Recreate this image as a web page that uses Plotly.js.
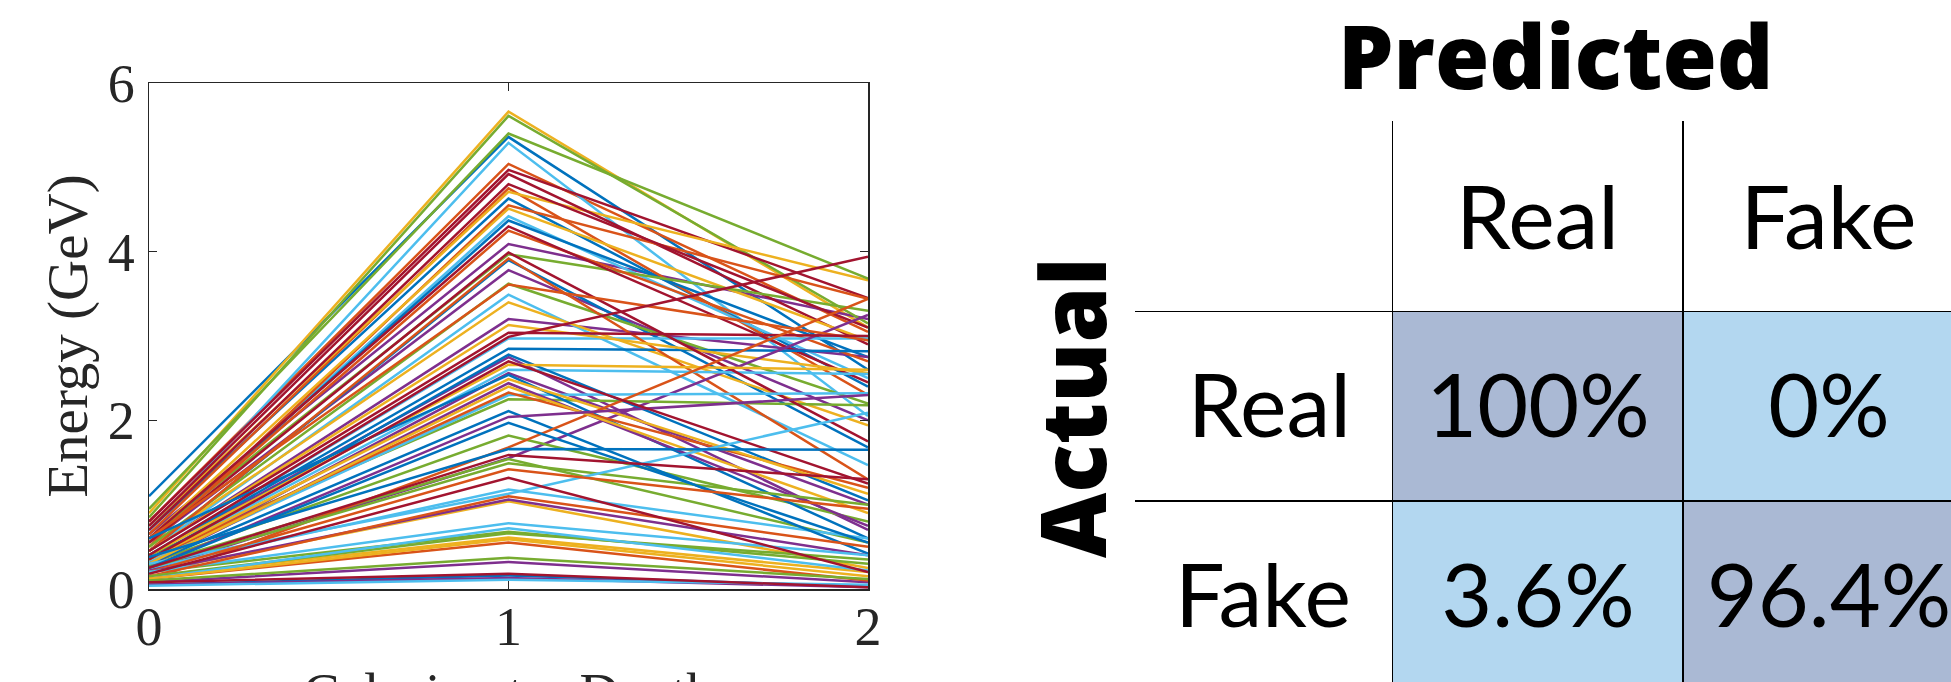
<!DOCTYPE html>
<html>
<head>
<meta charset="utf-8">
<script src="https://cdn.plot.ly/plotly-3.0.1.min.js"></script>
<style>html,body{margin:0;padding:0;background:#fff;}#chart{width:1951px;height:682px;}</style>
</head>
<body>
<div id="chart"></div>
<script>
// Calorimeter layers (x axis)
const depth = [0, 1, 2];
// Shower energy profiles [layer0, layer1, layer2] in GeV, grouped by MATLAB colour order
const showersBlue = [
  [1.10, 5.36, 2.60], [0.70, 4.63, 2.40], [0.55, 4.37, 2.75], [0.45, 3.90, 1.68],
  [0.40, 2.85, 2.82], [0.35, 2.78, 1.05], [0.60, 2.54, 0.60], [0.30, 2.11, 0.42],
  [0.25, 1.97, 0.55], [0.38, 1.66, 1.65], [0.05, 0.16, 0.03]
];
const showersOrange = [
  [0.80, 5.04, 3.05], [0.65, 4.75, 2.30], [0.50, 4.55, 3.44], [0.55, 4.25, 2.70],
  [0.45, 3.92, 1.30], [0.60, 3.61, 2.95], [0.35, 2.33, 1.20], [0.10, 1.68, 3.44],
  [0.20, 1.42, 0.95], [0.15, 1.10, 0.50], [0.12, 0.55, 0.10]
];
const showersYellow = [
  [0.90, 5.66, 3.10], [0.75, 4.71, 3.66], [0.60, 4.51, 2.95], [0.50, 3.40, 1.94],
  [0.45, 3.13, 2.56], [0.40, 2.66, 2.60], [0.35, 2.49, 1.13], [0.30, 2.40, 0.90],
  [0.20, 1.04, 0.25], [0.15, 0.61, 0.20], [0.12, 0.59, 0.15]
];
const showersPurple = [
  [0.65, 4.09, 3.20], [0.55, 3.78, 2.00], [0.45, 3.20, 2.75], [0.40, 2.75, 0.70],
  [0.22, 1.55, 3.25], [0.30, 2.56, 1.00], [0.28, 2.44, 0.75], [0.25, 2.04, 2.30],
  [0.20, 1.06, 0.40], [0.08, 0.32, 0.08], [0.05, 0.13, 0.02]
];
const showersGreen = [
  [0.85, 5.61, 3.15], [0.95, 5.40, 3.68], [0.60, 3.97, 3.30], [0.50, 3.62, 2.20],
  [0.40, 2.25, 2.18], [0.30, 1.82, 0.80], [0.28, 1.54, 0.55], [0.25, 1.49, 1.00],
  [0.20, 0.68, 0.30], [0.15, 0.66, 0.35], [0.10, 0.37, 0.12]
];
const showersLightBlue = [
  [0.70, 5.29, 2.05], [0.55, 4.42, 2.50], [0.45, 3.49, 1.47], [0.40, 2.97, 2.97],
  [0.35, 2.60, 2.55], [0.32, 2.30, 2.32], [0.25, 1.18, 0.60], [0.30, 1.13, 2.09],
  [0.20, 0.78, 0.40], [0.12, 0.72, 0.22], [0.04, 0.11, 0.05]
];
const showersRed = [
  [0.80, 4.97, 3.45], [0.75, 4.92, 2.90], [0.70, 4.80, 3.10], [0.60, 4.30, 2.45],
  [0.55, 3.99, 1.75], [0.45, 3.04, 3.00], [0.40, 2.99, 3.94], [0.35, 2.70, 1.25],
  [0.25, 1.59, 1.30], [0.18, 1.32, 0.20], [0.08, 0.18, 0.02]
];

// Confusion matrix
const classes = ['Real', 'Fake'];
const rates = [[100, 0], [3.6, 96.4]];

const matlabColors = ['#0072BD', '#D95319', '#EDB120', '#7E2F8E', '#77AC30', '#4DBEEE', '#A2142F'];
const groups = [showersBlue, showersOrange, showersYellow, showersPurple, showersGreen, showersLightBlue, showersRed];

const traces = [];
const n = Math.max(...groups.map(g => g.length));
for (let k = 0; k < n; k++) {
  for (let g = 0; g < groups.length; g++) {
    const row = groups[g][k];
    if (!row) continue;
    traces.push({
      type: 'scatter', mode: 'lines', x: depth, y: row,
      xaxis: 'x', yaxis: 'y',
      line: {color: matlabColors[g], width: 2.5},
      hoverinfo: 'skip', showlegend: false
    });
  }
}

traces.push({
  type: 'heatmap', x: classes, y: classes, z: rates,
  xaxis: 'x2', yaxis: 'y2',
  colorscale: [[0, '#B3D7F0'], [0.5, '#B3D7F0'], [0.5, '#AAB9D4'], [1, '#AAB9D4']],
  zmin: 0, zmax: 100, showscale: false,
  texttemplate: '%{z}%',
  textfont: {family: 'Lato, sans-serif', size: 88, color: '#000'},
  hoverinfo: 'skip'
});

const serif = 'Liberation Serif, serif';
const axisCommon = {
  showline: true, mirror: 'ticks', linecolor: '#262626', linewidth: 1.5,
  ticks: 'inside', ticklen: 8, tickwidth: 1.5, tickcolor: '#262626',
  showgrid: false, zeroline: false, fixedrange: true,
  tickfont: {family: serif, size: 54, color: '#262626'}
};

const layout = {
  width: 1951, height: 682,
  margin: {l: 0, r: 0, t: 0, b: 0},
  paper_bgcolor: '#fff', plot_bgcolor: '#fff',
  showlegend: false,
  xaxis: Object.assign({}, axisCommon, {
    domain: [149 / 1951, 868 / 1951], range: [0, 2], tickvals: [0, 1, 2],
    anchor: 'y', ticklabelstandoff: -10
  }),
  yaxis: Object.assign({}, axisCommon, {
    domain: [(682 - 589) / 682, (682 - 83) / 682], range: [0, 6], tickvals: [0, 2, 4, 6],
    anchor: 'x', ticklabelstandoff: 2,
    title: {text: 'Energy (GeV)', font: {family: serif, size: 57, color: '#262626'}, standoff: 2}
  }),
  xaxis2: {
    domain: [1392 / 1951, 1], range: [-0.5, -0.5 + (1951 - 1392) / 291],
    anchor: 'y2', side: 'top', type: 'category',
    showline: false, showgrid: false, zeroline: false, ticks: '', fixedrange: true,
    tickfont: {family: 'Lato, sans-serif', size: 88, color: '#000'},
    ticklabelstandoff: 43
  },
  yaxis2: {
    domain: [0, (682 - 311) / 682], range: [-0.5 + (682 - 311) / 190, -0.5],
    anchor: 'x2', type: 'category',
    showline: false, showgrid: false, zeroline: false, ticks: '', fixedrange: true,
    tickfont: {family: 'Lato, sans-serif', size: 88, color: '#000'},
    ticklabelstandoff: 40
  },
  shapes: [
    {type: 'line', xref: 'x2', yref: 'paper', x0: -0.5, x1: -0.5, y0: 0, y1: (682 - 121) / 682, line: {color: '#000', width: 2}},
    {type: 'line', xref: 'x2', yref: 'paper', x0: 0.5, x1: 0.5, y0: 0, y1: (682 - 121) / 682, line: {color: '#000', width: 2}},
    {type: 'line', xref: 'paper', yref: 'y2', x0: 1135 / 1951, x1: 1, y0: -0.5, y1: -0.5, line: {color: '#000', width: 2}},
    {type: 'line', xref: 'paper', yref: 'y2', x0: 1135 / 1951, x1: 1, y0: 0.5, y1: 0.5, line: {color: '#000', width: 2}}
  ],
  annotations: [
    {text: 'Calorimeter Depth', xref: 'x', yref: 'paper', x: 1, y: (682 - 660) / 682,
     xanchor: 'center', yanchor: 'top', showarrow: false,
     font: {family: serif, size: 55, color: '#262626'}},
    {text: 'Predicted', xref: 'paper', yref: 'paper', x: 1555 / 1951, y: (682 - 55) / 682,
     xanchor: 'center', yanchor: 'middle', showarrow: false,
     font: {family: 'Open Sans, sans-serif', size: 88, color: '#000', weight: 800}},
    {text: 'Actual', xref: 'paper', yref: 'paper', x: 1071 / 1951, y: (682 - 408) / 682,
     xanchor: 'center', yanchor: 'middle', showarrow: false, textangle: -90,
     font: {family: 'Open Sans, sans-serif', size: 90, color: '#000', weight: 800}}
  ]
};

Plotly.newPlot('chart', traces, layout, {displayModeBar: false, staticPlot: true});
</script>
</body>
</html>
